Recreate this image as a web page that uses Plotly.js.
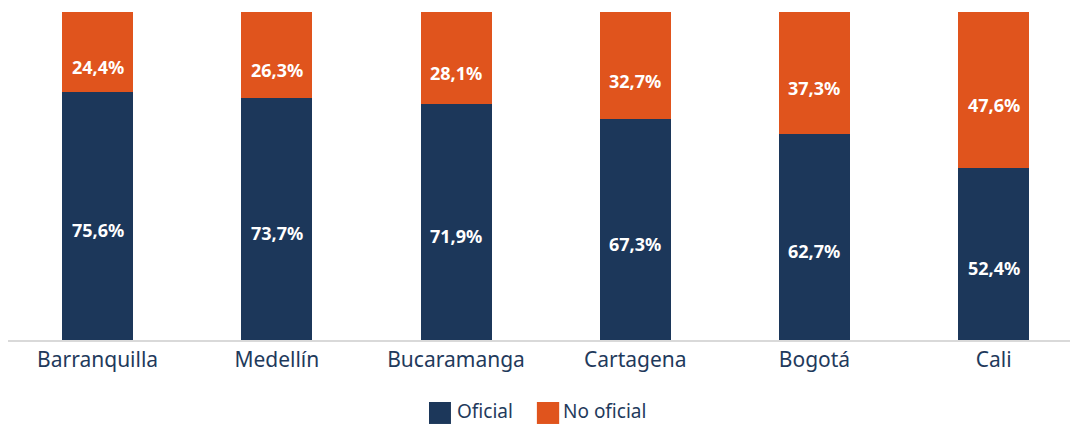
<!DOCTYPE html>
<html><head><meta charset="utf-8">
<script src="https://cdn.plot.ly/plotly-3.0.1.min.js"></script>
<style>html,body{margin:0;padding:0;background:#fff}#chart{width:1070px;height:425px}</style>
</head><body><div id="chart"></div>
<script>
const categories = ["Barranquilla","Medellín","Bucaramanga","Cartagena","Bogotá","Cali"];
const oficial = [75.6, 73.7, 71.9, 67.3, 62.7, 52.4];
const noOficial = [24.4, 26.3, 28.1, 32.7, 37.3, 47.6];
const labelsOficial = ["75,6%","73,7%","71,9%","67,3%","62,7%","52,4%"];
const labelsNoOficial = ["24,4%","26,3%","28,1%","32,7%","37,3%","47,6%"];

const NAVY = "#1c375a", ORANGE = "#e0541d", TXT = "#1f3a5c";
const FONT = "'Noto Sans', Lato, sans-serif";

const traces = [
  {type:"bar", name:"Oficial", x:categories, y:oficial, marker:{color:NAVY}, hoverinfo:"none"},
  {type:"bar", name:"No oficial", x:categories, y:noOficial, marker:{color:ORANGE}, hoverinfo:"none"}
];

const annotations = [];
categories.forEach((c,i)=>{
  annotations.push({x:c, y:oficial[i]/2, xref:"x", yref:"y", text:labelsOficial[i], showarrow:false, yshift:-14,
    font:{family:FONT, size:18, color:"#ffffff", weight:700}});
  annotations.push({x:c, y:oficial[i]+noOficial[i]/2, xref:"x", yref:"y", text:labelsNoOficial[i], showarrow:false, yshift:-15,
    font:{family:FONT, size:18, color:"#ffffff", weight:700}});
});
// legend
annotations.push({x:0.4209, y:-0.2226, xref:"paper", yref:"paper", xanchor:"left", yanchor:"middle", yshift:2, text:"Oficial", showarrow:false, font:{family:FONT, size:19, color:TXT}});
annotations.push({x:0.5208, y:-0.2226, xref:"paper", yref:"paper", xanchor:"left", yanchor:"middle", yshift:2, text:"No oficial", showarrow:false, font:{family:FONT, size:19, color:TXT}});

const shapes = [
  {type:"rect", xref:"paper", yref:"paper", x0:0.3964, x1:0.4171, y0:-0.256, y1:-0.189, fillcolor:NAVY, line:{width:0}},
  {type:"rect", xref:"paper", yref:"paper", x0:0.498, x1:0.519, y0:-0.256, y1:-0.189, fillcolor:ORANGE, line:{width:0}}
];

const layout = {
  width:1070, height:425,
  margin:{l:8, r:0, t:12, b:85},
  barmode:"stack", bargap:0.604,
  showlegend:false,
  paper_bgcolor:"#fff", plot_bgcolor:"#fff",
  xaxis:{range:[-0.5,5.426], showline:true, linecolor:"#d9d9d9", linewidth:2, ticks:"", showgrid:false,
    tickfont:{family:FONT, size:21, color:TXT}, fixedrange:true},
  yaxis:{range:[0,100], visible:false, showgrid:false, zeroline:false, fixedrange:true},
  annotations, shapes
};
Plotly.newPlot("chart", traces, layout, {displayModeBar:false, staticPlot:true});
</script></body></html>
